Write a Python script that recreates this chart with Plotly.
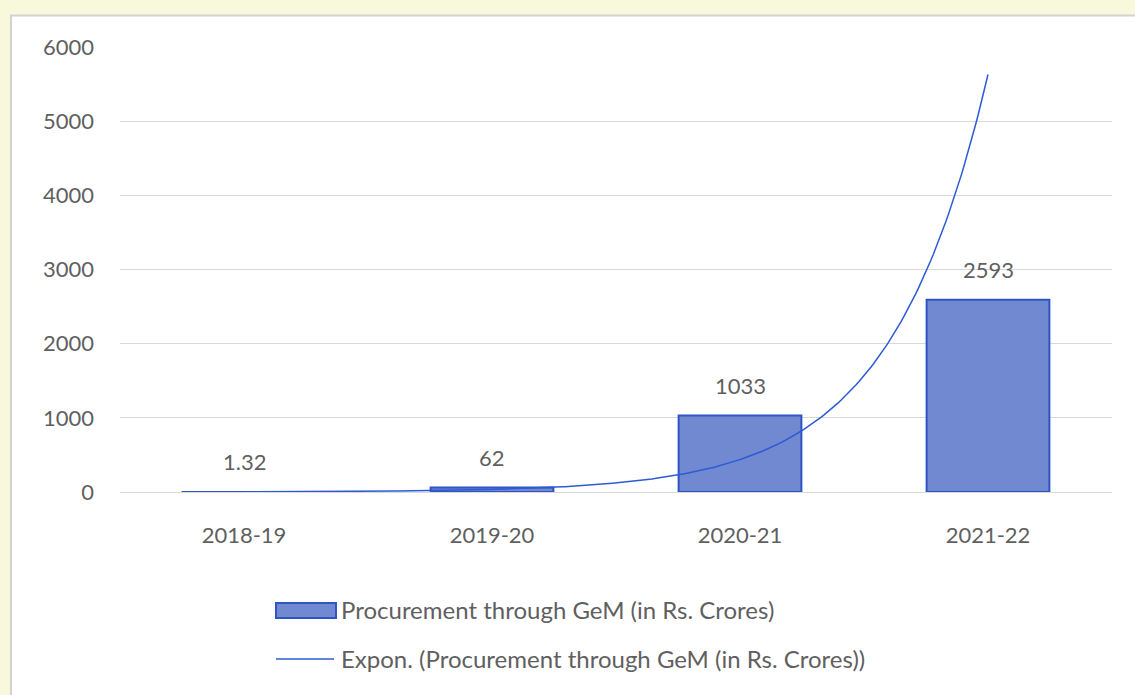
import numpy as np
import plotly.graph_objects as go

categories = ["2018-19", "2019-20", "2020-21", "2021-22"]
values = [1.32, 62, 1033, 2593]
value_labels = ["1.32", "62", "1033", "2593"]
y_ticks = [0, 1000, 2000, 3000, 4000, 5000, 6000]
bar_name = "Procurement through GeM (in Rs. Crores)"
trend_name = "Expon. (Procurement through GeM (in Rs. Crores))"

OFF = 0  # page body margin (set to 0 below)
W, H = 1135, 695
L, R, T, B = 120, 23, 47, 203
PW, PH = W - L - R, H - T - B

def px(x):
    return (x - OFF - L) / PW

def py(y):
    return (H - B - (y - OFF)) / PH

FONT = "Lato, 'Open Sans', sans-serif"
TXT = "#5f5f5f"
BG = "#f8f8dc"
BAR_FILL = "#7189d1"
BAR_LINE = "#2f55c2"
TREND = "#2d5bd3"

xs = np.arange(len(categories))
# Exponential trendline (least squares fit on ln y, as Excel does)
b, ln_a = np.polyfit(xs + 1, np.log(values), 1)
tx = np.linspace(xs[0], xs[-1], 300)
ty = np.exp(ln_a + b * (tx + 1))

fig = go.Figure()
fig.add_trace(go.Bar(
    x=xs, y=values, name=bar_name, width=0.495,
    marker=dict(color=BAR_FILL, line=dict(color=BAR_LINE, width=2)),
    showlegend=False, hoverinfo="skip",
))
fig.add_trace(go.Scatter(
    x=tx, y=ty, mode="lines", name=trend_name,
    line=dict(color=TREND, width=1.5), showlegend=False, hoverinfo="skip",
))

for i, (v, lab) in enumerate(zip(values, value_labels)):
    fig.add_annotation(x=i, y=v, text=lab, showarrow=False, yshift=30,
                       yanchor="middle", font=dict(family=FONT, size=22, color=TXT))

# chart area box
fig.add_shape(type="rect", xref="paper", yref="paper",
              x0=px(11), x1=px(1135 + 40), y0=py(15.5), y1=py(695 + 40),
              fillcolor="white", line=dict(color="#d2d2d2", width=2), layer="below")

# manual legend
fig.add_shape(type="rect", xref="paper", yref="paper",
              x0=px(276), x1=px(336), y0=py(603), y1=py(618),
              fillcolor=BAR_FILL, line=dict(color=BAR_LINE, width=2))
fig.add_shape(type="line", xref="paper", yref="paper",
              x0=px(276), x1=px(334), y0=py(659), y1=py(659),
              line=dict(color=TREND, width=1.5))
fig.add_annotation(xref="paper", yref="paper", x=px(339), y=py(609), text=bar_name,
                   showarrow=False, xanchor="left", yanchor="middle",
                   font=dict(family=FONT, size=24, color=TXT))
fig.add_annotation(xref="paper", yref="paper", x=px(339), y=py(658), text=trend_name,
                   showarrow=False, xanchor="left", yanchor="middle",
                   font=dict(family=FONT, size=24, color=TXT))

fig.update_layout(
    width=W, height=H,
    margin=dict(l=L, r=R, t=T, b=B, pad=0),
    paper_bgcolor=BG,
    plot_bgcolor="rgba(0,0,0,0)",
    font=dict(family=FONT, size=22, color=TXT),
    bargap=0.5,
    xaxis=dict(range=[-0.5, len(categories) - 0.5], tickvals=list(xs), ticktext=categories,
               showgrid=False, zeroline=False, showline=False, ticks="",
               ticklabelstandoff=28, tickfont=dict(size=22, color=TXT)),
    yaxis=dict(range=[0, 6000], tickvals=y_ticks, showgrid=True, gridcolor="#d9d9d9",
               gridwidth=1.2, zeroline=True, zerolinecolor="#d9d9d9", zerolinewidth=1.2,
               showline=False, ticks="", ticklabelstandoff=25,
               tickfont=dict(size=22, color=TXT)),
)

fig.write_html(
    "out.html",
    config={"displayModeBar": False},
    post_script=("document.body.style.margin='0';document.body.style.overflow='hidden';"
                 "document.body.style.background='%s';" % BG),
)
